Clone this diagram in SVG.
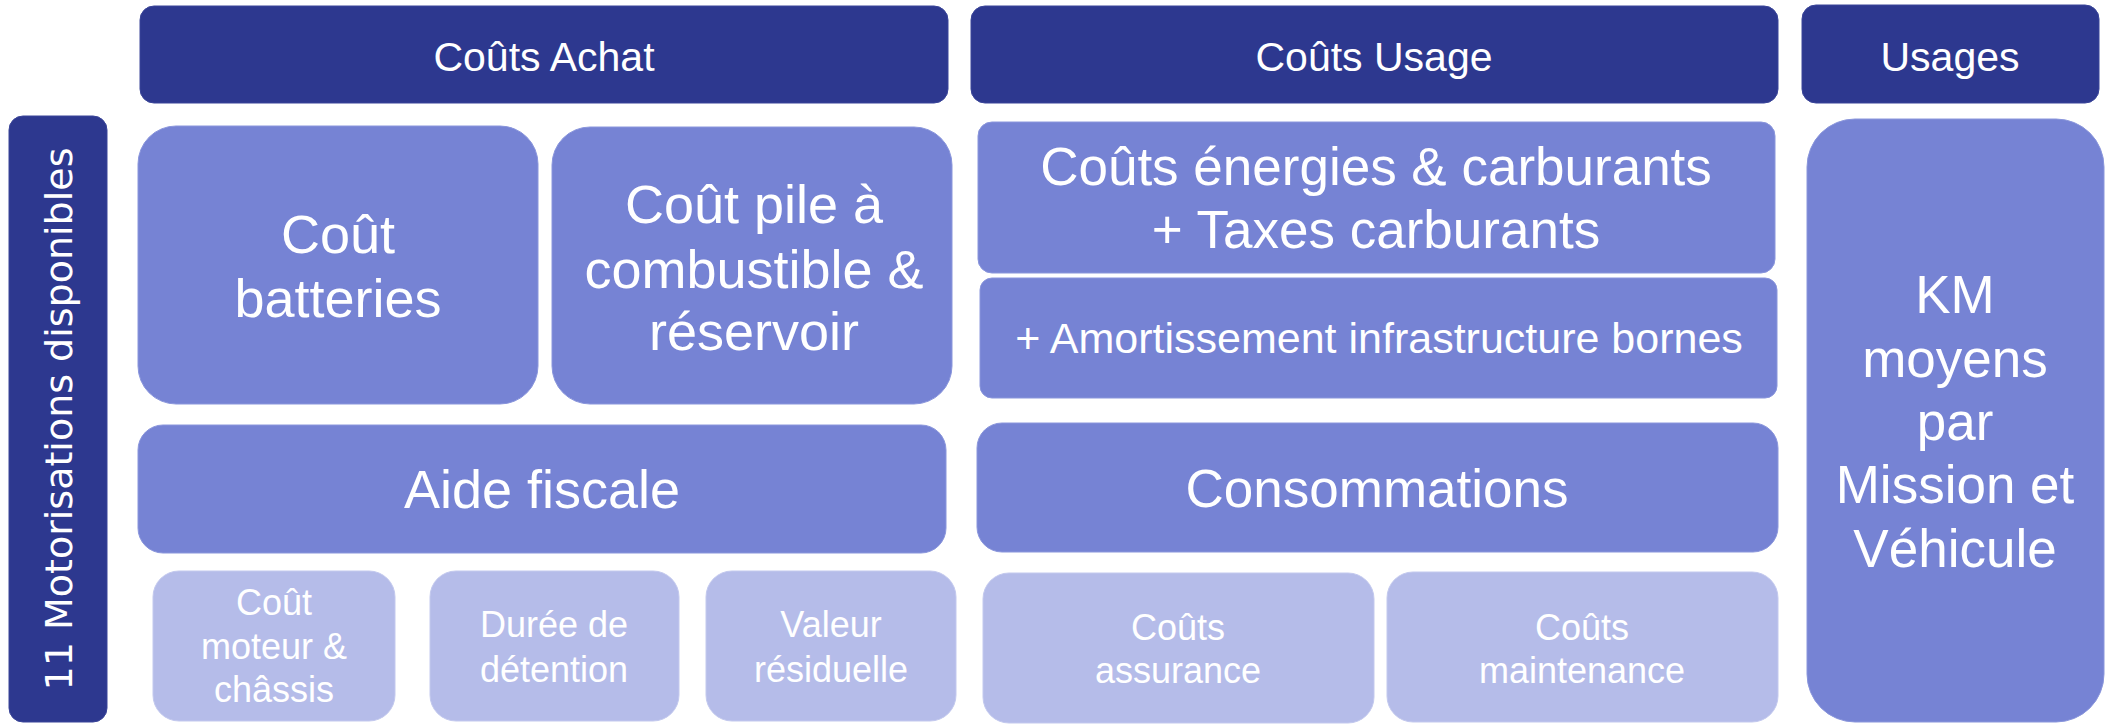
<svg xmlns="http://www.w3.org/2000/svg" width="2105" height="724" viewBox="0 0 2105 724">
<style>
.dark{fill:#2D388F;stroke:#3a4599;stroke-width:1}
.mid{fill:#7683D4;stroke:#8a96dc;stroke-width:1}
.light{fill:#B5BCE9;stroke:#c3c9ee;stroke-width:1}
text{font-family:"Liberation Sans",Arial,sans-serif;fill:#FFFFFF;text-anchor:middle}
.hd{font-size:41px}
.big{font-size:54px}
.big53{font-size:53px}
.md{font-size:43px}
.sm{font-size:36px}
.side{font-family:"DejaVu Sans",sans-serif;font-size:38px}
</style>
<rect width="2105" height="724" fill="#FFFFFF"/>
<g id="connectors"/>
<g id="side-motorisations">
<rect class="dark" x="9" y="116" width="98" height="606" rx="14"/>
<text class="side" transform="translate(72,419) rotate(-90)">11 Motorisations disponibles</text>
</g>
<g id="header-achat">
<rect class="dark" x="140" y="6" width="808" height="97" rx="14"/>
<text class="hd" x="544" y="71">Coûts Achat</text>
</g>
<g id="header-usage">
<rect class="dark" x="971" y="6" width="807" height="97" rx="14"/>
<text class="hd" x="1374" y="71">Coûts Usage</text>
</g>
<g id="header-usages">
<rect class="dark" x="1802" y="5" width="297" height="98" rx="14"/>
<text class="hd" x="1950" y="71">Usages</text>
</g>
<g id="cout-batteries">
<rect class="mid" x="138" y="126" width="400" height="278" rx="38"/>
<text class="big" x="338" y="253">Coût</text>
<text class="big" x="338" y="317">batteries</text>
</g>
<g id="cout-pile">
<rect class="mid" x="552" y="127" width="400" height="277" rx="38"/>
<text class="big" x="754" y="223">Coût pile à</text>
<text class="big" x="754" y="288">combustible &amp;</text>
<text class="big" x="754" y="350">réservoir</text>
</g>
<g id="couts-energies">
<rect class="mid" x="978" y="122" width="797" height="151" rx="14"/>
<text class="big53" x="1376" y="185">Coûts énergies &amp; carburants</text>
<text class="big53" x="1376" y="248">+ Taxes carburants</text>
</g>
<g id="amortissement">
<rect class="mid" x="980" y="278" width="797" height="120" rx="12"/>
<text class="md" x="1379" y="353">+ Amortissement infrastructure bornes</text>
</g>
<g id="km-moyens">
<rect class="mid" x="1807" y="119" width="297" height="603" rx="48"/>
<text class="big53" x="1955" y="313">KM</text>
<text class="big53" x="1955" y="377">moyens</text>
<text class="big53" x="1955" y="440">par</text>
<text class="big53" x="1955" y="503">Mission et</text>
<text class="big53" x="1955" y="567">Véhicule</text>
</g>
<g id="aide-fiscale">
<rect class="mid" x="138" y="425" width="808" height="128" rx="25"/>
<text class="big" x="542" y="508">Aide fiscale</text>
</g>
<g id="consommations">
<rect class="mid" x="977" y="423" width="801" height="129" rx="25"/>
<text class="big53" x="1377" y="507">Consommations</text>
</g>
<g id="cout-moteur">
<rect class="light" x="153" y="571" width="242" height="150" rx="26"/>
<text class="sm" x="274" y="615">Coût</text>
<text class="sm" x="274" y="659">moteur &amp;</text>
<text class="sm" x="274" y="702">châssis</text>
</g>
<g id="duree-detention">
<rect class="light" x="430" y="571" width="249" height="150" rx="26"/>
<text class="sm" x="554" y="637">Durée de</text>
<text class="sm" x="554" y="682">détention</text>
</g>
<g id="valeur-residuelle">
<rect class="light" x="706" y="571" width="250" height="150" rx="26"/>
<text class="sm" x="831" y="637">Valeur</text>
<text class="sm" x="831" y="682">résiduelle</text>
</g>
<g id="couts-assurance">
<rect class="light" x="983" y="573" width="391" height="150" rx="26"/>
<text class="sm" x="1178" y="640">Coûts</text>
<text class="sm" x="1178" y="683">assurance</text>
</g>
<g id="couts-maintenance">
<rect class="light" x="1387" y="572" width="391" height="150" rx="26"/>
<text class="sm" x="1582" y="640">Coûts</text>
<text class="sm" x="1582" y="683">maintenance</text>
</g>
</svg>
